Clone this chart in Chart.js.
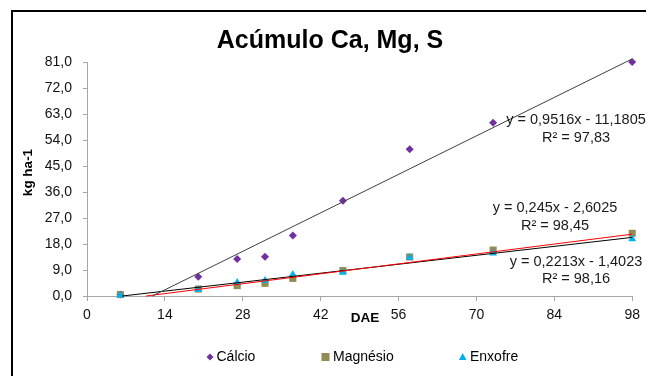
<!DOCTYPE html>
<html><head><meta charset="utf-8">
<script src="https://cdn.jsdelivr.net/npm/chart.js@4/dist/chart.umd.min.js"></script>
<style>html,body{margin:0;padding:0;background:#fff;}#wrap{width:646px;height:376px;position:relative;overflow:hidden}</style>
</head><body><div id="wrap"><canvas id="c" width="646" height="376"></canvas></div>
<script>
const dae = [6, 20, 27, 32, 37, 46, 58, 73, 98];
const calcio = [0.5, 6.7, 12.8, 13.6, 20.9, 33.0, 50.8, 60.0, 81.0];
const magnesio = [0.5, 2.4, 3.6, 4.4, 6.1, 8.8, 13.5, 15.9, 21.7];
const enxofre = [0.3, 2.2, 4.7, 5.4, 7.4, 8.1, 13.3, 14.8, 19.7];
const seriesNames = ['Cálcio', 'Magnésio', 'Enxofre'];
const slopes = [0.9516, 0.245, 0.2213];
const intercepts = [-11.1805, -2.6025, -1.4023];
const eqLabels = ['y = 0,9516x - 11,1805', 'y = 0,245x - 2,6025', 'y = 0,2213x - 1,4023'];
const r2Labels = ['R² = 97,83', 'R² = 98,45', 'R² = 98,16'];
const xTicks = [0, 14, 28, 42, 56, 70, 84, 98];
const yTicks = [0, 9, 18, 27, 36, 45, 54, 63, 72, 81];
const titleText = 'Acúmulo Ca, Mg, S';
const xTitle = 'DAE';
const yTitle = 'kg ha-1';

const FONT = '"Liberation Sans", Arial, sans-serif';
const colors = ['#7030A0', '#948A54', '#00B0F0'];
const trendColors = ['#404040', '#FF0000', '#000000'];
const styles = ['rectRot', 'rect', 'triangle'];
const radii = [4, 5, 4.5];
const values = [calcio, magnesio, enxofre];

function pts(arr) { return dae.map((x, i) => ({x: x, y: arr[i]})); }
function trend(k) {
  const m = slopes[k], b = intercepts[k];
  const x0 = Math.max(dae[0], -b / m);
  const x1 = dae[dae.length - 1];
  return [{x: x0, y: m * x0 + b}, {x: x1, y: m * x1 + b}];
}

const datasets = [];
values.forEach((arr, k) => {
  datasets.push({
    label: seriesNames[k], data: pts(arr), showLine: false, clip: false,
    pointStyle: styles[k], pointRadius: radii[k], pointHoverRadius: radii[k],
    backgroundColor: colors[k], borderColor: colors[k], borderWidth: 0,
    order: 3 - k
  });
});
values.forEach((arr, k) => {
  datasets.push({
    label: 'trend' + k, data: trend(k), showLine: true, pointRadius: 0, clip: false,
    borderColor: trendColors[k], borderWidth: 1, fill: false, order: 0
  });
});

const eqPos = [[576, 120, 138], [555, 207.5, 225.5], [576, 261.5, 279]];
const legendPos = [[210, 216.5], [325.5, 333], [462.7, 470]];

const deco = {
  id: 'deco',
  beforeDraw(chart) {
    const ctx = chart.ctx;
    ctx.save();
    ctx.fillStyle = '#fff';
    ctx.fillRect(0, 0, 646, 376);
    ctx.fillStyle = '#000';
    ctx.fillRect(11, 10, 2, 366);
    ctx.fillRect(11, 10, 635, 2);
    ctx.restore();
  },
  afterDraw(chart) {
    const ctx = chart.ctx;
    ctx.save();
    ctx.fillStyle = '#000';
    ctx.textAlign = 'center';
    ctx.textBaseline = 'alphabetic';
    ctx.font = 'bold 25px ' + FONT;
    ctx.fillText(titleText, 330, 47.5);

    ctx.textBaseline = 'middle';
    ctx.font = 'bold 13.5px ' + FONT;
    ctx.fillText(xTitle, 365, 318.5);
    ctx.save();
    ctx.translate(28, 172.5);
    ctx.rotate(-Math.PI / 2);
    ctx.fillText(yTitle, 0, 0);
    ctx.restore();

    ctx.font = '14.5px ' + FONT;
    ctx.fillStyle = '#1a1a1a';
    eqPos.forEach((p, k) => {
      ctx.fillText(eqLabels[k], p[0], p[1]);
      ctx.fillText(r2Labels[k], p[0], p[2]);
    });

    // legend
    const ly = 357;
    ctx.font = '14px ' + FONT;
    ctx.textAlign = 'left';
    ctx.fillStyle = '#000';
    legendPos.forEach((p, k) => {
      ctx.fillStyle = colors[k];
      ctx.beginPath();
      const cx = p[0];
      if (k === 0) {
        ctx.moveTo(cx, ly - 3.5); ctx.lineTo(cx + 3.5, ly); ctx.lineTo(cx, ly + 3.5); ctx.lineTo(cx - 3.5, ly);
      } else if (k === 1) {
        ctx.rect(cx - 4, ly - 4, 8, 8);
      } else {
        ctx.moveTo(cx, ly - 4); ctx.lineTo(cx + 3.8, ly + 3); ctx.lineTo(cx - 3.8, ly + 3);
      }
      ctx.closePath();
      ctx.fill();
      ctx.fillStyle = '#000';
      ctx.fillText(seriesNames[k], p[1], ly);
    });
    ctx.restore();
  }
};

new Chart(document.getElementById('c'), {
  type: 'scatter',
  data: {datasets: datasets},
  plugins: [deco],
  options: {
    responsive: false, animation: false, devicePixelRatio: 1,
    layout: {padding: {left: 0, top: 62, right: 13, bottom: 0}},
    plugins: {legend: {display: false}, title: {display: false}, tooltip: {enabled: false}},
    scales: {
      x: {
        type: 'linear', min: 0, max: 98,
        afterBuildTicks(s) { s.ticks = xTicks.map(v => ({value: v})); },
        afterFit(s) { s.height = 80; },
        grid: {drawOnChartArea: false, drawTicks: true, tickLength: 5, color: '#A6A6A6'},
        border: {color: '#A6A6A6', width: 1},
        ticks: {font: {family: FONT, size: 14}, color: '#111', padding: 6, maxRotation: 0, autoSkip: false}
      },
      y: {
        type: 'linear', min: 0, max: 81,
        afterBuildTicks(s) { s.ticks = yTicks.map(v => ({value: v})); },
        afterFit(s) { s.width = 87; },
        grid: {drawOnChartArea: false, drawTicks: true, tickLength: 4, color: '#A6A6A6'},
        border: {color: '#A6A6A6', width: 1},
        ticks: {font: {family: FONT, size: 14}, color: '#111', padding: 11, autoSkip: false,
          callback: v => v.toFixed(1).replace('.', ',')}
      }
    }
  }
});
</script></body></html>
